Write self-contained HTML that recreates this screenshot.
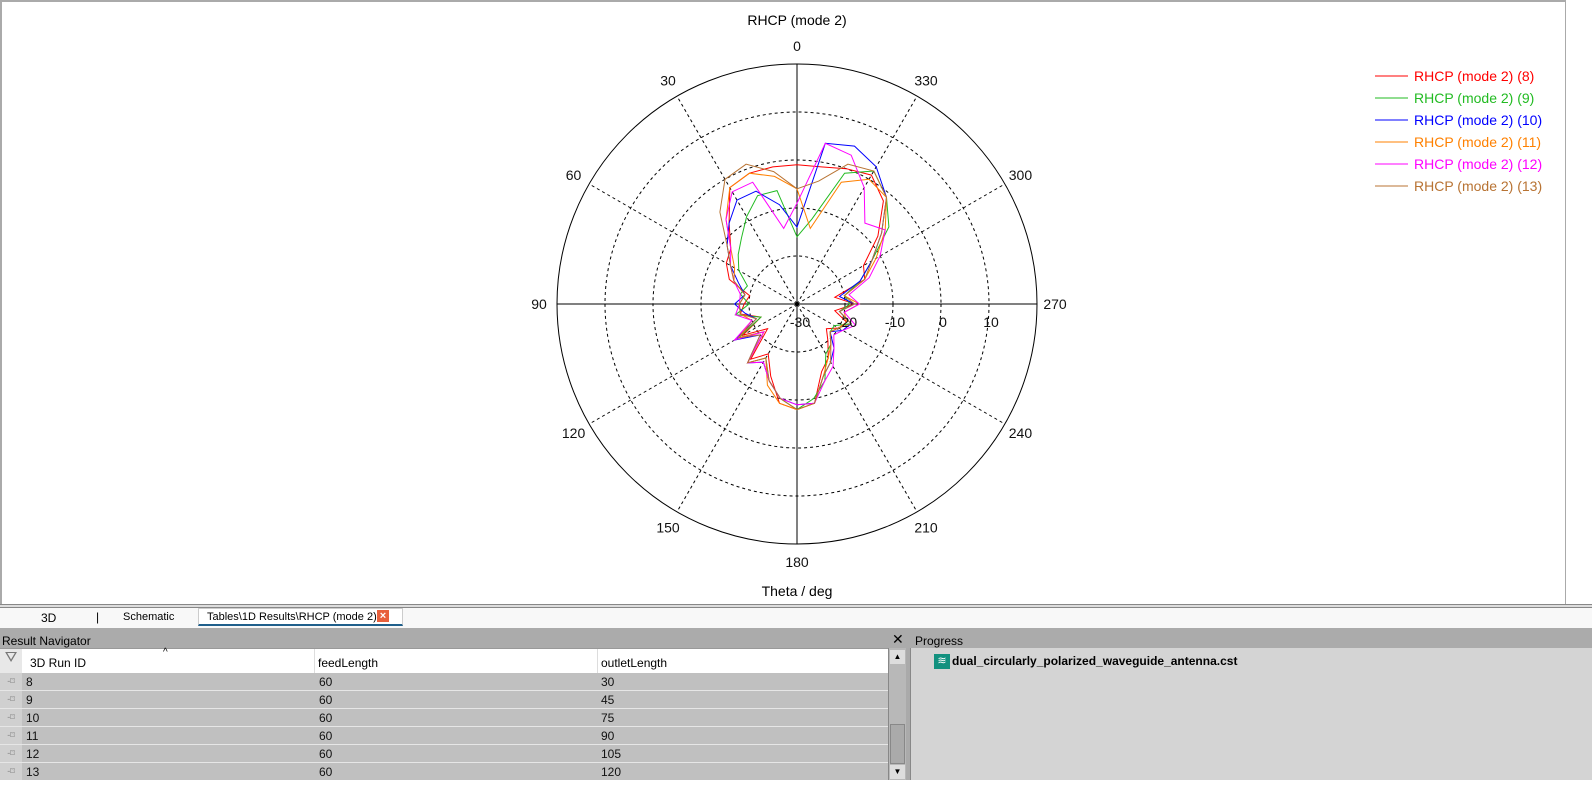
<!DOCTYPE html>
<html><head><meta charset="utf-8"><style>
body{margin:0;width:1592px;height:792px;overflow:hidden;background:#fff;font-family:"Liberation Sans",sans-serif;position:relative}
.abs{position:absolute}
.row{position:absolute;left:0;width:888px;height:17px;background:#c0c0c0;border-bottom:1px solid #e6e6e6;font-size:12px;color:#111}
.row span{position:absolute;top:2px}
</style></head><body>
<div class="abs" style="left:0;top:0;width:1566px;height:604px;border-top:2px solid #aaa;border-left:2px solid #aaa;border-right:1px solid #aaa;box-sizing:border-box"></div>
<svg class="abs" style="left:0;top:0" width="1592" height="606">
<g id="grid"></g><g id="series"></g><g id="labels" font-size="14" fill="#111" text-anchor="middle"></g>
<text x="797" y="25" font-size="14" text-anchor="middle">RHCP (mode 2)</text>
<text x="797" y="596" font-size="14" text-anchor="middle">Theta / deg</text>
<g id="legend" font-size="14"></g>
</svg>
<div class="abs" style="left:0;top:604px;width:1592px;height:4px;border-top:1px solid #888;border-bottom:1px solid #888;box-sizing:border-box;background:#ddd"></div>
<div class="abs" style="left:0;top:608px;width:1592px;height:20px;background:#f8f8f8;font-size:12px">
<span class="abs" style="left:41px;top:3px">3D</span>
<span class="abs" style="left:96px;top:2px">|</span>
<span class="abs" style="left:123px;top:3px;font-size:11px">Schematic</span>
<div class="abs" style="left:198px;top:0;width:205px;height:18px;background:#fff;border:1px solid #ccc;border-bottom:2px solid #1f5f8b;box-sizing:border-box"><span class="abs" style="left:8px;top:2px;font-size:11px">Tables\1D Results\RHCP (mode 2)</span><span class="abs" style="left:178px;top:1px;width:12px;height:12px;background:#e8603c;color:#fff;font-size:11px;line-height:12px;text-align:center;font-weight:bold">×</span></div>
</div>
<div class="abs" style="left:0;top:628px;width:1592px;height:20px;background:#ababab;font-size:12px">
<span class="abs" style="left:2px;top:6px">Result Navigator</span>
<span class="abs" style="left:892px;top:3px;font-size:14px">✕</span>
<span class="abs" style="left:915px;top:6px">Progress</span>
</div>
<div class="abs" style="left:0;top:648px;width:888px;height:24px;background:#fff;font-size:12px;border-top:1px solid #999">
<div class="abs" style="left:0;top:0;width:22px;height:24px;background:#e8e8e8;color:#777;font-size:15px;text-align:center">⛛</div>
<span class="abs" style="left:30px;top:7px">3D Run ID</span>
<span class="abs" style="left:163px;top:-2px;font-size:10px">^</span>
<span class="abs" style="left:314px;top:0;width:1px;height:24px;background:#ddd"></span>
<span class="abs" style="left:318px;top:7px">feedLength</span>
<span class="abs" style="left:597px;top:0;width:1px;height:24px;background:#ddd"></span>
<span class="abs" style="left:601px;top:7px">outletLength</span>
</div>
<div id="rows"></div>
<div class="abs" style="left:888px;top:648px;width:18px;height:132px;background:#b8b8b8;border-left:1px solid #888;box-sizing:border-box">
<div class="abs" style="left:1px;top:2px;width:15px;height:14px;background:#ddd;font-size:8px;text-align:center;line-height:14px">▲</div>
<div class="abs" style="left:1px;top:76px;width:15px;height:40px;background:#aaa;border:1px solid #888;box-sizing:border-box"></div>
<div class="abs" style="left:1px;top:117px;width:15px;height:14px;background:#ddd;font-size:8px;text-align:center;line-height:14px">▼</div>
</div>
<div class="abs" style="left:906px;top:648px;width:4px;height:132px;background:#aaa"></div>
<div class="abs" style="left:910px;top:648px;width:682px;height:132px;background:#d4d4d4;border-left:1px solid #888">
<div class="abs" style="left:23px;top:6px;width:16px;height:15px;background:#12917f;color:#fff;font-size:11px;line-height:15px;text-align:center">≋</div>
<span class="abs" style="left:41px;top:6px;font-size:12px;font-weight:bold">dual_circularly_polarized_waveguide_antenna.cst</span>
</div>
<div class="abs" style="left:0;top:780px;width:1592px;height:12px;background:#fff"></div>
<script>
const NS="http://www.w3.org/2000/svg";
const angles=[0,10,20,30,40,50,60,70,80,90,100,110,120,130,140,150,160,170,180,190,200,210,220,230,240,250,260,270,280,290,300,310,320,330,340,350];
const runIds=["8","9","10","11","12","13"];
const feedLengths=["60","60","60","60","60","60"];
const outletLengths=["30","45","75","90","105","120"];
const seriesNames=["RHCP (mode 2) (8)","RHCP (mode 2) (9)","RHCP (mode 2) (10)","RHCP (mode 2) (11)","RHCP (mode 2) (12)","RHCP (mode 2) (13)"];
const seriesColors=["#ff0000","#22bb22","#0000ff","#ff8000","#ff00ff","#b87333"];
const s8=[-1,-1,-1,-2,-8,-12,-13,-15,-20,-19,-18,-22,-17,-22,-15,-18,-14,-9,-8,-9,-15,-17,-20,-22,-20,-19,-22,-18,-22,-15,-14,-8,-2,1,0,-1];
const s9=[-16,-6,-6,-9,-12,-14,-16,-19,-18,-20,-17,-22,-16,-21,-14,-17,-13,-10,-8,-10,-13,-18,-19,-21,-21,-18,-21,-19,-20,-16,-12,-5,-1,2,-1,-12];
const s10=[-14,-9,-5,-5,-8,-11,-14,-17,-19,-17,-19,-21,-15,-20,-14,-16,-13,-10,-9,-9,-14,-16,-18,-21,-19,-18,-21,-18,-21,-16,-12,-7,-1,3,5,4];
const s11=[-6,-3,-1,-2,-7,-12,-15,-16,-19,-18,-18,-20,-16,-21,-14,-17,-12,-9,-8,-9,-14,-17,-19,-21,-20,-19,-20,-17,-20,-15,-11,-6,-1,0,-3,-14];
const s12=[-9,-14,-3,-3,-7,-12,-14,-16,-18,-18,-17,-20,-15,-21,-14,-16,-13,-10,-9,-9,-13,-15,-18,-20,-19,-17,-20,-17,-19,-14,-10,-6,-8,-2,3,4];
const s13=[-6,-2,1,0,-5,-11,-14,-16,-19,-18,-18,-21,-16,-20,-14,-17,-13,-10,-8,-9,-14,-16,-19,-21,-20,-18,-21,-18,-20,-15,-12,-7,-1,2,1,-4];
const seriesData=[s8,s9,s10,s11,s12,s13];
const ringValues=[-20,-10,0,10,20];
const ringLabels=["-20","-10","0","10"];
const spokeAngles=[0,30,60,90,120,150,180,210,240,270,300,330];
const cx=797,cy=304,R=240,minDb=-30,maxDb=20;
function rScale(v){return Math.max(0,(v-minDb)/(maxDb-minDb)*R);}
function px(a,r){return cx-r*Math.sin(a*Math.PI/180);}
function py(a,r){return cy-r*Math.cos(a*Math.PI/180);}
const grid=document.getElementById('grid');
ringValues.forEach((v,i)=>{
 const c=document.createElementNS(NS,'circle');
 c.setAttribute('cx',cx);c.setAttribute('cy',cy);c.setAttribute('r',rScale(v));
 c.setAttribute('fill','none');c.setAttribute('stroke','#000');
 if(i<ringValues.length-1)c.setAttribute('stroke-dasharray','3,3');
 
 
 grid.appendChild(c);
});
spokeAngles.forEach(a=>{
 const l=document.createElementNS(NS,'line');
 l.setAttribute('x1',cx);l.setAttribute('y1',cy);l.setAttribute('x2',px(a,R));l.setAttribute('y2',py(a,R));
 l.setAttribute('stroke','#000');
 if(a%90!==0)l.setAttribute('stroke-dasharray','3,3');
 
 
 grid.appendChild(l);
});
const lab=document.getElementById('labels');
spokeAngles.forEach(a=>{
 const t=document.createElementNS(NS,'text');
 t.setAttribute('x',px(a,258));t.setAttribute('y',py(a,258)+5);t.textContent=a;
 
 
 lab.appendChild(t);
});
ringLabels.forEach((s,i)=>{
 const t=document.createElementNS(NS,'text');
 t.setAttribute('x',cx+rScale(ringValues[i])+2);t.setAttribute('y',cy+23);t.textContent=s;
 
 
 lab.appendChild(t);
});
const c30=document.createElementNS(NS,'text');
c30.setAttribute('x',cx+3);c30.setAttribute('y',cy+23);c30.textContent='-30';


lab.appendChild(c30);
const sg=document.getElementById('series');
seriesData.forEach((d,k)=>{
 let pts=d.map((v,i)=>px(angles[i],rScale(v)).toFixed(1)+','+py(angles[i],rScale(v)).toFixed(1));
 const p=document.createElementNS(NS,'polygon');
 p.setAttribute('points',pts.join(' '));p.setAttribute('fill','none');p.setAttribute('stroke',seriesColors[k]);p.setAttribute('stroke-width','1');
 
 
 sg.appendChild(p);
});
const lg=document.getElementById('legend');
seriesNames.forEach((n,k)=>{
 const y=76+k*22;
 const l=document.createElementNS(NS,'line');
 l.setAttribute('x1',1375);l.setAttribute('x2',1408);l.setAttribute('y1',y);l.setAttribute('y2',y);l.setAttribute('stroke',seriesColors[k]);
 
 
 lg.appendChild(l);
 const t=document.createElementNS(NS,'text');
 t.setAttribute('x',1414);t.setAttribute('y',y+5);t.setAttribute('fill',seriesColors[k]);t.textContent=n;
 
 
 lg.appendChild(t);
});
const rows=document.getElementById('rows');
runIds.forEach((id,i)=>{
 const r=document.createElement('div');r.className='row';r.style.top=(673+i*18)+'px';
 
 
 r.innerHTML='<span style="left:0;top:0;width:22px;height:17px;background:#d0d0d0;color:#888;font-size:9px;text-align:center;line-height:17px">-⌑</span><span style="left:26px">'+id+'</span><span style="left:319px">'+feedLengths[i]+'</span><span style="left:601px">'+outletLengths[i]+'</span>';
 rows.appendChild(r);
});
</script>
</body></html>
